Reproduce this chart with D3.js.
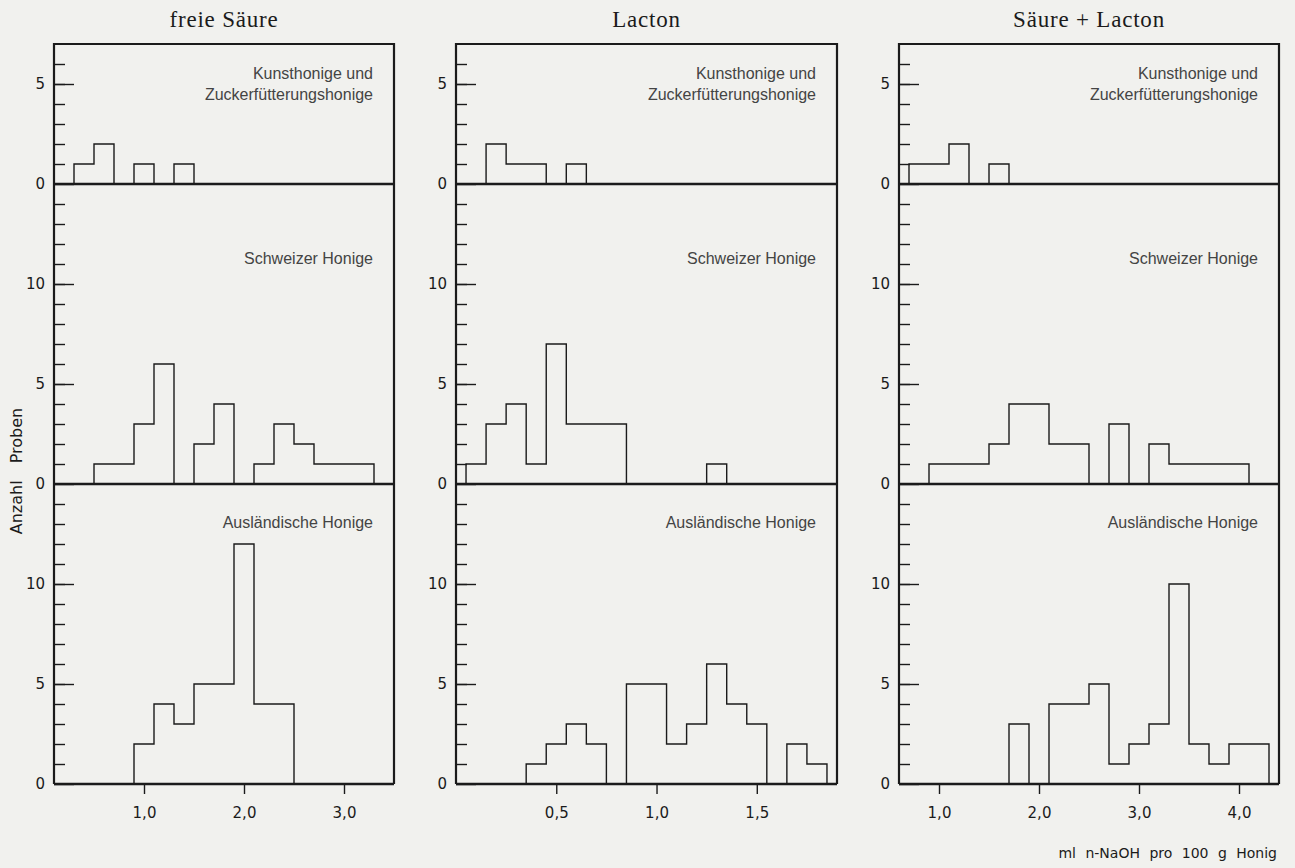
<!DOCTYPE html>
<html>
<head>
<meta charset="utf-8">
<script src="https://cdn.jsdelivr.net/npm/d3@7"></script>
<style>
    body { margin: 0; background: #f1f1ee; }
    svg { display: block; }
</style>
</head>
<body>
<div id="chart-area"></div>
<script>
// panel titles and x ticks
var panelTitles = ["freie Säure", "Lacton", "Säure + Lacton"];
var panelDomains = [[0.1, 3.5], [0, 1.9], [0.6, 4.4]];
var panelTicks = [[1, 2, 3], [0.5, 1, 1.5], [1, 2, 3, 4]];
var binWidths = [0.2, 0.1, 0.2];

// group labels (top, middle, bottom rows)
var groupLabels = [["Kunsthonige und", "Zuckerfütterungshonige"], ["Schweizer Honige"], ["Ausländische Honige"]];

// histogram counts: first bin start + counts per bin
var freieKunstStart = 0.3;
var freieKunst = [1, 2, 0, 1, 0, 1];
var freieSchweizStart = 0.5;
var freieSchweiz = [1, 1, 3, 6, 0, 2, 4, 0, 1, 3, 2, 1, 1, 1];
var freieAuslandStart = 0.9;
var freieAusland = [2, 4, 3, 5, 5, 12, 4, 4];

var lactonKunstStart = 0.15;
var lactonKunst = [2, 1, 1, 0, 1];
var lactonSchweizStart = 0.05;
var lactonSchweiz = [1, 3, 4, 1, 7, 3, 3, 3, 0, 0, 0, 0, 1];
var lactonAuslandStart = 0.35;
var lactonAusland = [1, 2, 3, 2, 0, 5, 5, 2, 3, 6, 4, 3, 0, 2, 1];

var summeKunstStart = 0.7;
var summeKunst = [1, 1, 2, 0, 1];
var summeSchweizStart = 0.9;
var summeSchweiz = [1, 1, 1, 2, 4, 4, 2, 2, 0, 3, 0, 2, 1, 1, 1, 1];
var summeAuslandStart = 1.7;
var summeAusland = [3, 0, 4, 4, 5, 1, 2, 3, 10, 2, 1, 2, 2];

var histData = [
    [[freieKunstStart, freieKunst], [freieSchweizStart, freieSchweiz], [freieAuslandStart, freieAusland]],
    [[lactonKunstStart, lactonKunst], [lactonSchweizStart, lactonSchweiz], [lactonAuslandStart, lactonAusland]],
    [[summeKunstStart, summeKunst], [summeSchweizStart, summeSchweiz], [summeAuslandStart, summeAusland]]
];

// row y-ranges
var rowDomains = [7, 15, 15];
var rowPx = [[44, 184], [184, 484], [484, 784]];
var panelPx = [[54, 394], [456, 837], [899, 1279]];

var width = 1295, height = 868;
var ink = "#1b1b1b";

var svg = d3.select("#chart-area").append("svg")
    .attr("width", width)
    .attr("height", height);

function fmt(v) {
    return d3.format(".1f")(v).replace(".", ",");
}

panelTitles.forEach(function(title, p) {
    var x0 = panelPx[p][0], x1 = panelPx[p][1];
    var xScale = d3.scaleLinear()
        .domain(panelDomains[p])
        .range([x0, x1]);

    var g = svg.append("g").attr("class", "panel");

    // title
    g.append("text")
        .attr("x", (x0 + x1) / 2)
        .attr("y", 27)
        .attr("text-anchor", "middle")
        .attr("font-family", "Liberation Serif, serif")
        .attr("font-size", 23)
        .attr("letter-spacing", 0.8)
        .attr("fill", ink)
        .text(title);

    for (var r = 0; r < 3; r++) {
        var yScale = d3.scaleLinear()
            .domain([0, rowDomains[r]])
            .range([rowPx[r][1], rowPx[r][0]]);

        var minor = d3.range(1, rowDomains[r]);
        var major = d3.range(0, rowDomains[r], 5);

        // minor ticks
        var minorAxis = d3.axisLeft(yScale)
            .tickValues(minor)
            .tickSize(-11)
            .tickFormat("");
        var ma = g.append("g")
            .attr("transform", "translate(" + x0 + ",0)")
            .call(minorAxis);
        ma.select(".domain").remove();
        ma.selectAll("line").attr("stroke", ink).attr("stroke-width", 1.4);

        // major ticks with labels
        var majorAxis = d3.axisLeft(yScale)
            .tickValues(major)
            .tickSize(-20)
            .tickPadding(9)
            .tickFormat(d3.format("d"));
        var mj = g.append("g")
            .attr("transform", "translate(" + x0 + ",0)")
            .call(majorAxis);
        mj.select(".domain").remove();
        mj.selectAll("line").attr("stroke", ink).attr("stroke-width", 1.4);
        mj.selectAll("text")
            .attr("font-family", "DejaVu Sans, sans-serif")
            .attr("font-size", 15)
            .attr("fill", ink);

        // histogram outline
        var start = histData[p][r][0];
        var counts = histData[p][r][1];
        var bw = binWidths[p];
        var runs = [];
        var cur = null;
        counts.forEach(function(c, i) {
            var a = start + i * bw, b = start + (i + 1) * bw;
            if (c > 0) {
                if (!cur) { cur = [[a, 0]]; runs.push(cur); }
                cur.push([a, c]);
                cur.push([b, c]);
            } else if (cur) {
                cur.push([cur[cur.length - 1][0], 0]);
                cur = null;
            }
        });
        if (cur) cur.push([cur[cur.length - 1][0], 0]);

        var line = d3.line()
            .x(function(d) { return xScale(d[0]); })
            .y(function(d) { return yScale(d[1]); });

        g.selectAll(".hist" + r)
            .data(runs)
            .enter()
            .append("path")
            .attr("class", "hist" + r)
            .attr("d", line)
            .attr("fill", "none")
            .attr("stroke", ink)
            .attr("stroke-width", 1.4);

        // baseline
        g.append("line")
            .attr("x1", x0).attr("x2", x1)
            .attr("y1", yScale(0)).attr("y2", yScale(0))
            .attr("stroke", ink)
            .attr("stroke-width", 2.6);

        // group label
        var lbl = groupLabels[r];
        var ly = r === 0 ? 79 : (r === 1 ? 264 : 528);
        lbl.forEach(function(t, k) {
            g.append("text")
                .attr("x", x1 - 21)
                .attr("y", ly + k * 21)
                .attr("text-anchor", "end")
                .attr("font-family", "Liberation Sans, Arial, sans-serif")
                .attr("font-size", 16)
                .attr("fill", "#444")
                .text(t);
        });
    }

    // frame: top and sides
    g.append("path")
        .attr("d", "M" + x0 + "," + 784 + "V" + 44 + "H" + x1 + "V" + 784)
        .attr("fill", "none")
        .attr("stroke", ink)
        .attr("stroke-width", 2.2);

    // x axis
    var xAxis = d3.axisBottom(xScale)
        .tickValues(panelTicks[p])
        .tickSize(9)
        .tickPadding(13)
        .tickFormat(fmt);
    var xa = g.append("g")
        .attr("transform", "translate(0,785)")
        .call(xAxis);
    xa.select(".domain").remove();
    xa.selectAll("line").attr("stroke", ink).attr("stroke-width", 1.4);
    xa.selectAll("text")
        .attr("font-family", "DejaVu Sans, sans-serif")
        .attr("font-size", 15)
        .attr("fill", ink);
});

// y axis title
svg.append("text")
    .attr("transform", "translate(22,471) rotate(-90)")
    .attr("text-anchor", "middle")
    .attr("font-family", "DejaVu Sans, sans-serif")
    .attr("font-size", 16)
    .attr("fill", ink)
    .attr("word-spacing", 12)
    .text("Anzahl Proben");

// x axis title
svg.append("text")
    .attr("x", 1277)
    .attr("y", 858)
    .attr("text-anchor", "end")
    .attr("font-family", "DejaVu Sans, sans-serif")
    .attr("font-size", 14)
    .attr("fill", ink)
    .attr("word-spacing", 5)
    .text("ml n-NaOH pro 100 g Honig");
</script>
</body>
</html>
